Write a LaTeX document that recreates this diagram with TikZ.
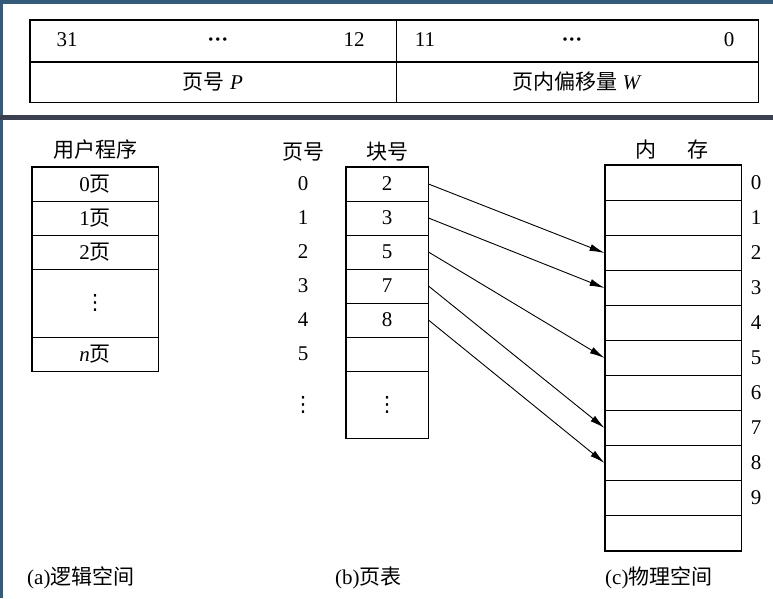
\documentclass[tikz,border=0pt]{standalone}
\usepackage{fontspec}
\setmainfont{Liberation Serif}
\newfontfamily\cjk{Noto Sans CJK SC}
\newfontfamily\dvs{DejaVu Sans}
\usetikzlibrary{arrows.meta}
\newcommand{\zh}[1]{{\cjk #1}}
\newcommand{\vd}{{\dvs ⋮}}
\definecolor{frameblue}{RGB}{52,92,122}
\definecolor{bandgray}{RGB}{58,64,80}
\begin{document}
\begin{tikzpicture}[x=1pt,y=-1pt,
  font=\fontsize{21}{24}\selectfont,
  inner/.style={draw,line width=0.9pt,inner sep=0pt},
  ucell/.style={inner,minimum width=126pt,minimum height=34pt},
  tcell/.style={inner,minimum width=82pt,minimum height=34pt},
  mcell/.style={inner,minimum width=136pt,minimum height=35pt},
  hcell/.style={inner,minimum height=41pt},
  outer/.style={draw,line width=1.7pt},
  lbl/.style={inner sep=0pt},
  arr/.style={line width=0.9pt,-{Latex[length=15pt,width=7pt]}}]
\useasboundingbox (0,0) rectangle (773,598);
\fill[white] (0,0) rectangle (773,598);
% frame decorations
\fill[frameblue] (0,0) rectangle (773,4);
\fill[frameblue] (0,0) rectangle (3,598);
\fill[bandgray] (0,114.5) rectangle (773,119.5);

% address format box
\node[hcell,minimum width=366pt] (hp) at (213,41) {};
\node[hcell,minimum width=362pt] (hw) at (577,41) {};
\node[hcell,minimum width=366pt,minimum height=40pt] (lp) at (213,82) {\zh{页号} \textit{P}};
\node[hcell,minimum width=362pt,minimum height=40pt] (lw) at (577,82) {\zh{页内偏移量} \textit{W}};
\draw[outer] (hp.north west) rectangle (lw.south east);
\draw[line width=1.2pt] (hp.north east) -- (lp.south east);
\node[lbl] (b31) at (67,40) {31};
\node[lbl] (bd1) at (218,42) {\textbf{···}};
\node[lbl] (b12) at (354,40) {12};
\node[lbl] (b11) at (425,40) {11};
\node[lbl] (bd2) at (572,42) {\textbf{···}};
\node[lbl] (b0) at (729,40) {0};

% (a) user program
\node[lbl] (uh) at (95,150) {\zh{用户程序}};
\node[ucell] (u0) at (95,184) {0\zh{页}};
\node[ucell] (u1) at (95,218) {1\zh{页}};
\node[ucell] (u2) at (95,252) {2\zh{页}};
\node[ucell,minimum height=68pt] (ud) at (95,303) {\vd};
\node[ucell] (un) at (95,354) {\textit{n}\zh{页}};
\draw[outer] (u0.north west) rectangle (un.south east);

% (b) page table
\node[lbl] (ph) at (303,152) {\zh{页号}};
\node[lbl] (bh) at (387,152) {\zh{块号}};
\node[tcell] (t0) at (387,184) {2};
\node[tcell] (t1) at (387,218) {3};
\node[tcell] (t2) at (387,252) {5};
\node[tcell] (t3) at (387,286) {7};
\node[tcell] (t4) at (387,320) {8};
\node[tcell] (t5) at (387,354) {};
\node[tcell,minimum height=67pt] (td) at (387,404.5) {\vd};
\draw[outer] (t0.north west) rectangle (td.south east);
\node[lbl] (p0) at (303,184) {0};
\node[lbl] (p1) at (303,218) {1};
\node[lbl] (p2) at (303,252) {2};
\node[lbl] (p3) at (303,286) {3};
\node[lbl] (p4) at (303,320) {4};
\node[lbl] (p5) at (303,354) {5};
\node[lbl] (pd) at (303,405) {\vd};

% (c) memory
\node[lbl] (mh1) at (646,150) {\zh{内}};
\node[lbl] (mh2) at (698,150) {\zh{存}};
\foreach \i in {0,...,10} {
  \node[mcell] (m\i) at (673,{183+35*\i}) {};
}
\draw[outer] (m0.north west) rectangle (m10.south east);
\foreach \i in {0,...,9} {
  \node[lbl] (ml\i) at (756,{183+35*\i}) {\i};
}

% mapping arrows
\draw[arr] (t0.east) -- (m2.west);
\draw[arr] (t1.east) -- (m3.west);
\draw[arr] (t2.east) -- (m5.west);
\draw[arr] (t3.east) -- (m7.west);
\draw[arr] (t4.east) -- (m8.west);

% captions
\node[lbl,anchor=west] (ca) at (27,578) {(a)\zh{逻辑空间}};
\node[lbl,anchor=west] (cb) at (335,578) {(b)\zh{页表}};
\node[lbl,anchor=west] (cc) at (605,578) {(c)\zh{物理空间}};
\end{tikzpicture}
\end{document}
